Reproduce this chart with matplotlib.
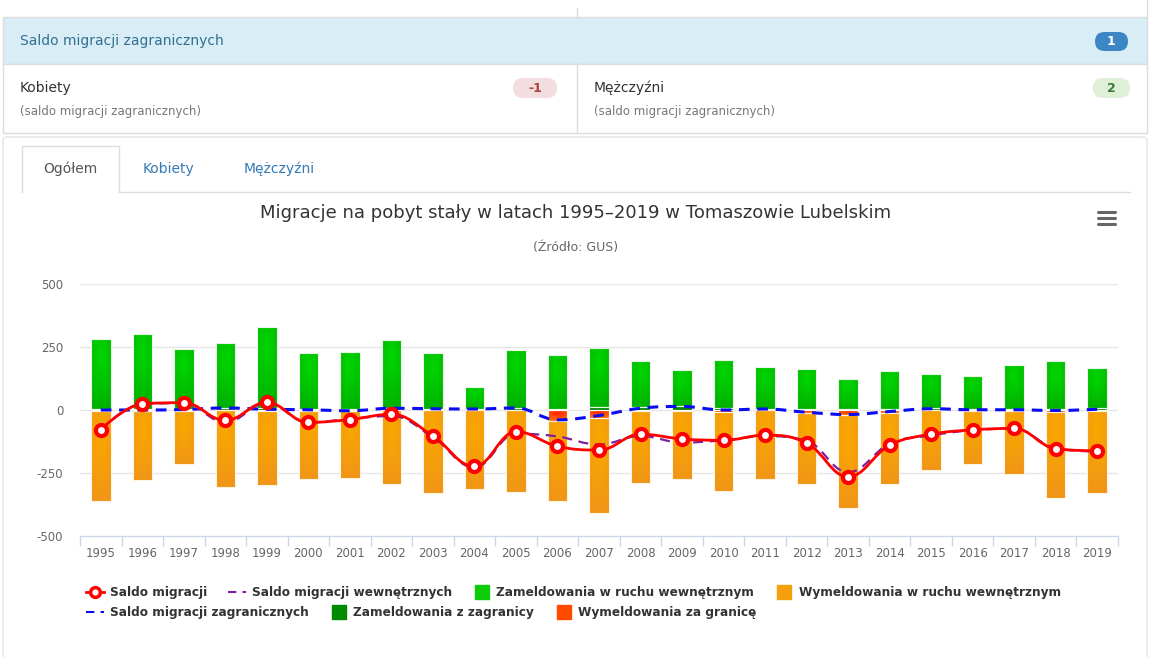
import matplotlib
matplotlib.use("Agg")
import numpy as np
import matplotlib.pyplot as plt
from matplotlib.patches import FancyBboxPatch, Rectangle, PathPatch
from matplotlib.path import Path
from matplotlib.lines import Line2D
from matplotlib.colors import to_rgb

plt.rcParams['font.family'] = ['DejaVu Sans']

# data
years = [str(y) for y in range(1995, 2020)]
zam_wewn = [278, 297, 239, 258, 322, 223, 228, 269, 223, 87, 231, 214, 238,
            182, 141, 194, 167, 160, 120, 150, 138, 131, 175, 190, 161]
zam_zagr = [5, 3, 4, 8, 6, 3, 2, 7, 5, 4, 8, 3, 10,
            12, 16, 6, 5, 3, 2, 4, 6, 4, 5, 4, 6]
wym_wewn = [-356, -273, -212, -307, -295, -273, -263, -293, -331, -315, -325, -319, -375,
            -285, -270, -314, -271, -282, -367, -284, -239, -211, -249, -342, -326]
wym_zagr = [-5, -3, -2, 0, -3, -2, -5, 0, 0, 0, 0, -42, -32,
            -5, -2, -6, -1, -12, -20, -10, -1, -3, -4, -6, -3]
saldo_wewn = [-78, 24, 27, -49, 27, -50, -35, -24, -108, -228, -94, -105, -137,
              -103, -129, -120, -104, -122, -247, -134, -101, -80, -74, -152, -165]
saldo_zagr = [0, 0, 2, 8, 3, 1, -3, 7, 5, 4, 8, -39, -22,
              7, 14, 0, 4, -9, -18, -6, 5, 1, 1, -2, 3]
saldo = [-78, 24, 29, -41, 30, -49, -38, -17, -103, -224, -86, -144, -159,
         -96, -115, -120, -100, -131, -265, -140, -96, -79, -73, -154, -162]

# (centre colour, edge colour) of the soft radial gradients
GREEN = ('#00d600', '#00ac00')
DGREEN = ('#009400', '#007800')
ORANGE = ('#faa800', '#ef931a')
RED = ('#ff2400', '#ff7a00')


def gradient_img(c_in, c_out):
    yy, xx = np.mgrid[0:40, 0:20]
    r = np.sqrt(((xx - 9.5) / 20.0) ** 2 + ((yy - 10) / 34.0) ** 2)
    r = np.clip(r, 0, 1)[..., None]
    a = np.array(to_rgb(c_in))
    b = np.array(to_rgb(c_out))
    return a * (1 - r) + b * r


def gradient_bars(ax, bars, colors):
    img = gradient_img(*colors)
    for p in bars:
        x0, y0 = p.get_x(), p.get_y()
        w, h = p.get_width(), p.get_height()
        if h == 0:
            continue
        top, bot = max(y0, y0 + h), min(y0, y0 + h)
        im = ax.imshow(img, extent=[x0, x0 + w, bot, top], origin='upper',
                       aspect='auto', zorder=2, interpolation='bilinear')
        im.set_clip_path(p)


def spline_path(xs, ys, smoothing=1.5):
    # highcharts style spline through the points
    n = len(xs)
    left = [None] * n
    right = [None] * n
    for i in range(1, n - 1):
        x, y = xs[i], ys[i]
        lx, ly = xs[i - 1], ys[i - 1]
        nx, ny = xs[i + 1], ys[i + 1]
        d = smoothing + 1
        lcx = (smoothing * x + lx) / d
        lcy = (smoothing * y + ly) / d
        rcx = (smoothing * x + nx) / d
        rcy = (smoothing * y + ny) / d
        if rcx != lcx:
            corr = (rcy - lcy) * (rcx - x) / (rcx - lcx) + y - rcy
            lcy += corr
            rcy += corr
            if lcy > ly and lcy > y:
                lcy = max(ly, y)
                rcy = 2 * y - lcy
            elif lcy < ly and lcy < y:
                lcy = min(ly, y)
                rcy = 2 * y - lcy
            if rcy > ny and rcy > y:
                rcy = max(ny, y)
                lcy = 2 * y - rcy
            elif rcy < ny and rcy < y:
                rcy = min(ny, y)
                lcy = 2 * y - rcy
        left[i] = (lcx, lcy)
        right[i] = (rcx, rcy)
    verts = [(xs[0], ys[0])]
    codes = [Path.MOVETO]
    for i in range(1, n):
        c1 = right[i - 1] if right[i - 1] else (xs[i - 1], ys[i - 1])
        c2 = left[i] if left[i] else (xs[i], ys[i])
        verts += [c1, c2, (xs[i], ys[i])]
        codes += [Path.CURVE4] * 3
    return Path(verts, codes)


fig = plt.figure(figsize=(11.5, 6.57), dpi=100)

# ---- page elements around the chart (pixel coordinates) ----
ui = fig.add_axes([0, 0, 1, 1])
ui.set_xlim(0, 1150)
ui.set_ylim(657, 0)
ui.axis('off')

border = '#dddddd'
ui.plot([577, 577], [8, 17], color=border, lw=1)
ui.plot([1147, 1147], [0, 17], color=border, lw=1)
ui.add_patch(Rectangle((3, 17), 1144, 47, facecolor='#d9edf7', edgecolor=border, lw=1))
ui.add_patch(Rectangle((3, 64), 1144, 69, facecolor='white', edgecolor=border, lw=1))
ui.plot([577, 577], [64, 133], color=border, lw=1)

ui.text(20, 41, 'Saldo migracji zagranicznych', color='#31708f', fontsize=10, va='center')
ui.add_patch(FancyBboxPatch((1095, 32), 33, 19, boxstyle='round,pad=0,rounding_size=9.5',
                            facecolor='#3d86c6', edgecolor='none'))
ui.text(1111, 41.5, '1', color='white', fontsize=9, fontweight='bold', ha='center', va='center')

ui.text(20, 88, 'Kobiety', color='#333333', fontsize=10, va='center')
ui.text(20, 111, '(saldo migracji zagranicznych)', color='#777777', fontsize=8.5, va='center')
ui.add_patch(FancyBboxPatch((513, 78), 44, 20, boxstyle='round,pad=0,rounding_size=10',
                            facecolor='#f2dede', edgecolor='none'))
ui.text(535, 88, '-1', color='#a94442', fontsize=9, fontweight='bold', ha='center', va='center')

ui.text(594, 88, 'Mężczyźni', color='#333333', fontsize=10, va='center')
ui.text(594, 111, '(saldo migracji zagranicznych)', color='#777777', fontsize=8.5, va='center')
ui.add_patch(FancyBboxPatch((1093, 78), 37, 20, boxstyle='round,pad=0,rounding_size=10',
                            facecolor='#dff0d8', edgecolor='none'))
ui.text(1111, 88, '2', color='#3c763d', fontsize=9, fontweight='bold', ha='center', va='center')

# panel with tabs
ui.add_patch(FancyBboxPatch((3, 137), 1144, 560, boxstyle='round,pad=0,rounding_size=4',
                            facecolor='white', edgecolor='#e3e3e3', lw=1))
ui.plot([119, 1130], [192, 192], color=border, lw=1)
ui.plot([22, 22, 119, 119], [192, 146, 146, 192], color=border, lw=1)
ui.text(70, 169, 'Ogółem', color='#555555', fontsize=10, ha='center', va='center')
ui.text(169, 169, 'Kobiety', color='#337ab7', fontsize=10, ha='center', va='center')
ui.text(279, 169, 'Mężczyźni', color='#337ab7', fontsize=10, ha='center', va='center')

ui.text(576, 213, 'Migracje na pobyt stały w latach 1995–2019 w Tomaszowie Lubelskim',
        color='#333333', fontsize=13, ha='center', va='center')
ui.text(576, 247, '(Źródło: GUS)', color='#666666', fontsize=9, ha='center', va='center')
for yy in (212, 218, 224):
    ui.plot([1098, 1115], [yy, yy], color='#666666', lw=2.2, solid_capstyle='round')

# ---- the chart ----
ax = fig.add_axes([80 / 1150, 121 / 657, 1038 / 1150, 252 / 657])
ax.set_facecolor('none')
x = list(range(len(years)))
bw = 0.47

b1 = ax.bar(x, zam_zagr, bw, facecolor='none', edgecolor='#e8f8e8', lw=0.8, zorder=2.5)
b2 = ax.bar(x, zam_wewn, bw, bottom=zam_zagr, facecolor='none', edgecolor='#e8f8e8', lw=0.8, zorder=2.5)
b3 = ax.bar(x, wym_zagr, bw, facecolor='none', edgecolor='white', lw=0.8, zorder=2.5)
b4 = ax.bar(x, wym_wewn, bw, bottom=wym_zagr, facecolor='none', edgecolor='#fff3e0', lw=0.8, zorder=2.5)
gradient_bars(ax, b1, DGREEN)
gradient_bars(ax, b2, GREEN)
gradient_bars(ax, b3, RED)
gradient_bars(ax, b4, ORANGE)

ax.add_patch(PathPatch(spline_path(x, saldo_zagr), fill=False, edgecolor='#0b0bf0',
                       lw=2.2, linestyle=(0, (3.5, 2.5)), zorder=3))
ax.add_patch(PathPatch(spline_path(x, saldo_wewn), fill=False, edgecolor='#7d1fa0',
                       lw=1.6, linestyle=(0, (4.5, 3)), zorder=3))
ax.add_patch(PathPatch(spline_path(x, saldo), fill=False, edgecolor='#ff0000',
                       lw=2.0, zorder=4, capstyle='round', joinstyle='round'))
ax.plot(x, saldo, 'o', ls='none', ms=8, mfc='white', mec='#ff0000', mew=3, zorder=5)

ax.set_xlim(-0.5, len(years) - 0.5)
ax.set_ylim(-500, 500)
ax.set_yticks([-500, -250, 0, 250, 500])
ax.set_yticklabels(['-500', '-250', '0', '250', '500'])
ax.set_xticks(x)
ax.set_xticklabels(years)
ax.set_xticks([i - 0.5 for i in range(len(years) + 1)], minor=True)
ax.tick_params(axis='x', which='major', length=0, pad=8, labelsize=8.5, labelcolor='#666666')
ax.tick_params(axis='x', which='minor', length=7, color='#ccd6eb', width=1)
ax.tick_params(axis='y', length=0, pad=12, labelsize=8.5, labelcolor='#666666')
ax.grid(axis='y', color='#e6e6e6', lw=1, zorder=0)
ax.set_axisbelow(True)
for s in ('top', 'right', 'left'):
    ax.spines[s].set_visible(False)
ax.spines['bottom'].set_color('#ccd6eb')
ax.spines['bottom'].set_zorder(1)

# ---- legend, two rows like the original ----
def sq(c):
    return Line2D([], [], marker='s', ls='none', ms=10, mfc=c, mec=c)

h_saldo = Line2D([], [], color='#ff0000', lw=2, marker='o', ms=7, mfc='white',
                 mec='#ff0000', mew=2.5)
h_wewn = Line2D([], [], color='#7d1fa0', lw=1.5, ls=(0, (4, 3)))
h_zagr = Line2D([], [], color='#0b0bf0', lw=1.5, ls=(0, (4, 3)))

leg_kw = dict(loc='upper left', frameon=False, borderpad=0, borderaxespad=0,
              handlelength=1.5, handletextpad=0.45, columnspacing=1.75,
              prop={'weight': 'bold', 'size': 8.7})
leg1 = fig.legend([h_saldo, h_wewn, sq('#0ccc0c'), sq('#f59f0c')],
                  ['Saldo migracji', 'Saldo migracji wewnętrznych',
                   'Zameldowania w ruchu wewnętrznym', 'Wymeldowania w ruchu wewnętrznym'],
                  ncol=4, bbox_to_anchor=(86 / 1150, 1 - 586 / 657), **leg_kw)
for t in leg1.get_texts():
    t.set_color('#333333')
leg2 = fig.legend([h_zagr, sq('#008a00'), sq('#ff4a00')],
                  ['Saldo migracji zagranicznych', 'Zameldowania z zagranicy',
                   'Wymeldowania za granicę'],
                  ncol=3, bbox_to_anchor=(86 / 1150, 1 - 606 / 657), **leg_kw)
for t in leg2.get_texts():
    t.set_color('#333333')

fig.savefig('out.png', dpi=100)
